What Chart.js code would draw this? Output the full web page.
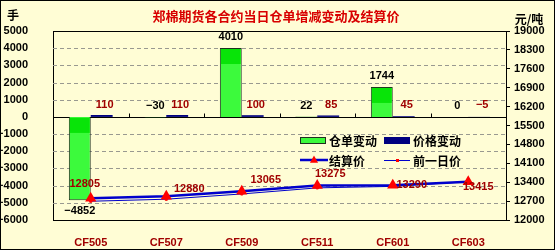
<!DOCTYPE html>
<html>
<head>
<meta charset="utf-8">
<script src="https://cdn.jsdelivr.net/npm/chart.js@4.4.0/dist/chart.umd.min.js"></script>
<style>
html, body { margin: 0; padding: 0; background: #fffdd5; }
#wrap { position: relative; width: 555px; height: 250px; }
</style>
</head>
<body>
<div id="wrap"><canvas id="chart"></canvas></div>
<script>
// contracts on the x axis
const contracts = ['CF505', 'CF507', 'CF509', 'CF511', 'CF601', 'CF603'];
// warrant change (手), left axis
const warrantChange = [-4852, -30, 4010, 22, 1744, 0];
// price change (元/吨), left axis
const priceChange = [110, 110, 100, 85, 45, -5];
// settlement price (元/吨), right axis
const settlePrice = [12805, 12880, 13065, 13275, 13290, 13415];
// previous day settlement = settlement - price change
const prevPrice = [12695, 12770, 12965, 13190, 13245, 13420];

const titleText = '郑棉期货各合约当日仓单增减变动及结算价';
const numFont = 'bold 11px "Liberation Sans", Arial, sans-serif';
const cjkFont = 'bold 12px "Noto Sans CJK SC", sans-serif';
const darkRed = '#a00000';
const green = '#3cfa3c';
const greenTop = '#08e408';
const navy = '#000080';
const lineBlue = '#0000cc';

// label nudges for the settlement labels (dx, dy from the point)
const settleLabelShift = [[-6, -14], [23, -7], [24, -11], [13, -12], [19, 0], [10, 5]];

function fmt(v) {
    return String(v).replace('-', '\u2212');
}

function triangle(ctx, x, y, r) {
    ctx.beginPath();
    ctx.moveTo(x, y - r);
    ctx.lineTo(x + r * 0.9, y + r * 0.6);
    ctx.lineTo(x - r * 0.9, y + r * 0.6);
    ctx.closePath();
    ctx.fill();
}

const decor = {
    id: 'decor',
    beforeDraw(chart) {
        const ctx = chart.ctx;
        ctx.save();
        ctx.fillStyle = '#fffdd5';
        ctx.fillRect(0, 0, chart.width, chart.height);
        ctx.restore();
    },
    beforeDatasetsDraw(chart) {
        // dashed grid lines + zero line with small ticks at category boundaries
        const ctx = chart.ctx;
        const area = chart.chartArea;
        const ys = chart.scales.y;
        ctx.save();
        ctx.strokeStyle = '#999990';
        ctx.lineWidth = 1;
        ctx.setLineDash([4, 3]);
        ys.ticks.forEach(t => {
            if (t.value === 0 || t.value === ys.max || t.value === ys.min) return;
            const y = Math.round(ys.getPixelForValue(t.value)) + 0.5;
            ctx.beginPath();
            ctx.moveTo(area.left, y);
            ctx.lineTo(area.right, y);
            ctx.stroke();
        });
        ctx.setLineDash([]);
        const y0 = Math.round(ys.getPixelForValue(0)) + 0.5;
        ctx.strokeStyle = '#000';
        ctx.beginPath();
        ctx.moveTo(area.left, y0);
        ctx.lineTo(area.right, y0);
        const step = (area.right - area.left) / contracts.length;
        for (let i = 1; i < contracts.length; i++) {
            const x = Math.round(area.left + step * i) + 0.5;
            ctx.moveTo(x, y0);
            ctx.lineTo(x, y0 - 4);
        }
        ctx.stroke();
        ctx.restore();
    },
    afterDatasetDraw(chart, args) {
        // darker band at the top of each warrant bar
        if (args.index !== 2) return;
        const ctx = chart.ctx;
        ctx.save();
        ctx.fillStyle = greenTop;
        args.meta.data.forEach(el => {
            const top = Math.min(el.y, el.base);
            const h = Math.abs(el.base - el.y);
            if (h < 6) return;
            const band = Math.min(15, h / 2);
            ctx.fillRect(el.x - el.width / 2 + 1, top + 1, el.width - 2, band);
        });
        ctx.restore();
    },
    afterDatasetsDraw(chart) {
        const ctx = chart.ctx;
        ctx.save();
        ctx.font = numFont;
        ctx.textAlign = 'center';
        ctx.textBaseline = 'middle';

        // warrant change labels
        const mw = chart.getDatasetMeta(2);
        ctx.fillStyle = '#000';
        mw.data.forEach((el, i) => {
            const v = warrantChange[i];
            const y = v < -1000 ? el.y + 11 : Math.min(el.y, el.base) - 11;
            ctx.fillText(fmt(v), el.x, y);
        });

        // price change labels
        const mp = chart.getDatasetMeta(3);
        ctx.fillStyle = darkRed;
        mp.data.forEach((el, i) => {
            ctx.fillText(fmt(priceChange[i]), el.x + 3, el.base - 12);
        });

        // settlement labels
        const ms = chart.getDatasetMeta(0);
        ms.data.forEach((el, i) => {
            const s = settleLabelShift[i];
            ctx.fillText(String(settlePrice[i]), el.x + s[0], el.y + s[1]);
        });
        ctx.restore();
    },
    afterDraw(chart) {
        const ctx = chart.ctx;
        const area = chart.chartArea;
        ctx.save();

        // top edge of plot area
        ctx.strokeStyle = '#000';
        ctx.lineWidth = 1;
        ctx.beginPath();
        ctx.moveTo(area.left, Math.round(area.top) + 0.5);
        ctx.lineTo(area.right, Math.round(area.top) + 0.5);
        ctx.stroke();

        // outer frame
        ctx.strokeRect(0.5, 0.5, chart.width - 1, chart.height - 1);

        // title and units
        ctx.textBaseline = 'middle';
        ctx.textAlign = 'center';
        ctx.fillStyle = '#d80000';
        ctx.font = 'bold 13px "Noto Sans CJK SC", sans-serif';
        ctx.fillText(titleText, 276, 16);
        ctx.fillStyle = '#000';
        ctx.font = cjkFont;
        ctx.fillText('手', 13, 15);
        ctx.fillText('元/吨', 529, 19);

        // legend
        ctx.textAlign = 'left';
        ctx.fillStyle = green;
        ctx.fillRect(300, 137, 26, 7);
        ctx.strokeStyle = '#203020';
        ctx.strokeRect(300.5, 137.5, 25, 6);
        ctx.fillStyle = navy;
        ctx.fillRect(384, 137, 26, 7);
        ctx.fillStyle = '#000';
        ctx.fillText('仓单变动', 329, 141);
        ctx.fillText('价格变动', 413, 141);

        ctx.strokeStyle = lineBlue;
        ctx.lineWidth = 2.5;
        ctx.beginPath();
        ctx.moveTo(300, 160);
        ctx.lineTo(328, 160);
        ctx.stroke();
        ctx.lineWidth = 1;
        ctx.beginPath();
        ctx.moveTo(384, 160.5);
        ctx.lineTo(410, 160.5);
        ctx.stroke();
        ctx.fillStyle = '#ff0000';
        triangle(ctx, 314, 160, 4.5);
        ctx.fillRect(396, 159, 3, 3);
        ctx.fillStyle = '#000';
        ctx.fillText('结算价', 329, 161);
        ctx.fillText('前一日价', 413, 161);
        ctx.restore();
    }
};

const chart = new Chart(document.getElementById('chart'), {
    type: 'bar',
    data: {
        labels: contracts,
        datasets: [
            {
                type: 'line', label: '结算价', data: settlePrice, yAxisID: 'y1',
                borderColor: lineBlue, borderWidth: 2.5, pointStyle: 'triangle',
                pointRadius: 4, pointBackgroundColor: '#ff0000', pointBorderColor: '#ff0000', order: 0
            },
            {
                type: 'line', label: '前一日价', data: prevPrice, yAxisID: 'y1',
                borderColor: lineBlue, borderWidth: 1, pointStyle: 'rect',
                pointRadius: 1.5, pointBackgroundColor: '#ff0000', pointBorderColor: '#ff0000', order: 0
            },
            {
                label: '仓单变动', data: warrantChange, yAxisID: 'y',
                backgroundColor: green, borderColor: '#203020', borderWidth: 1,
                categoryPercentage: 0.58, barPercentage: 1, order: 1
            },
            {
                label: '价格变动', data: priceChange, yAxisID: 'y',
                backgroundColor: navy, borderWidth: 0,
                categoryPercentage: 0.58, barPercentage: 1, order: 1
            }
        ]
    },
    options: {
        responsive: true,
        maintainAspectRatio: false,
        animation: false,
        layout: { padding: { top: 31, left: 0, right: 0, bottom: 0 } },
        plugins: {
            legend: { display: false },
            title: { display: false },
            tooltip: { enabled: false }
        },
        scales: {
            x: {
                grid: { display: false },
                border: { display: true, color: '#000' },
                ticks: { color: darkRed, font: { family: '"Liberation Sans", Arial', size: 11, weight: 'bold' }, padding: 8 },
                afterFit(scale) { scale.height = 30; }
            },
            y: {
                position: 'left',
                min: -6000, max: 5000,
                ticks: {
                    stepSize: 1000, color: '#000', padding: 17,
                    font: { family: '"Liberation Sans", Arial', size: 11, weight: 'bold' },
                    callback: v => fmt(v)
                },
                grid: { display: false },
                border: { display: true, color: '#000' },
                afterFit(scale) { scale.width = 53; }
            },
            y1: {
                position: 'right',
                min: 12000, max: 19000,
                ticks: {
                    stepSize: 700, color: '#000', padding: 4,
                    font: { family: '"Liberation Sans", Arial', size: 11, weight: 'bold' },
                    callback: v => String(v)
                },
                grid: { drawOnChartArea: false, drawTicks: true, tickLength: 4, color: '#000' },
                border: { display: true, color: '#000' },
                afterFit(scale) { scale.width = 49; }
            }
        }
    },
    plugins: [decor]
});
</script>
</body>
</html>
